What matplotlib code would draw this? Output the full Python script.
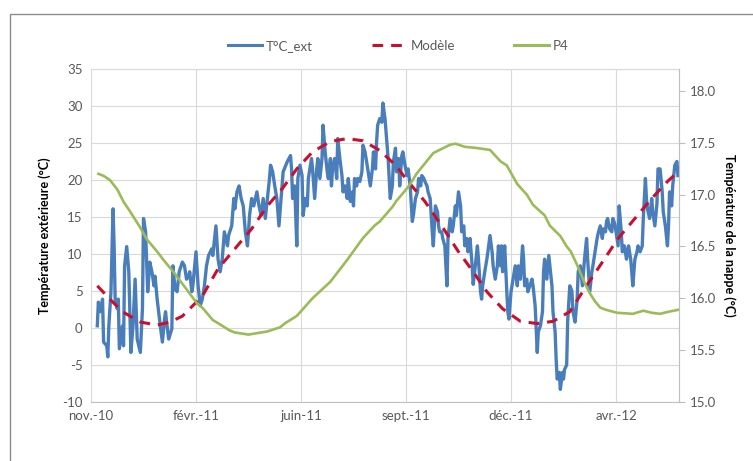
import numpy as np
import pandas as pd
import matplotlib
matplotlib.use("Agg")
import matplotlib.pyplot as plt
from matplotlib.lines import Line2D
from matplotlib.patches import Rectangle

plt.rcParams['font.family'] = ['Lato', 'DejaVu Sans']
plt.rcParams['axes.unicode_minus'] = False

# données (jours depuis le 18/11/2010)
start = pd.Timestamp('2010-11-18')
tick_labels = ['nov.-10', 'févr.-11', 'juin-11', 'sept.-11', 'déc.-11', 'avr.-12']
tick_days = [0, 100, 200, 300, 400, 500]

# T°C_ext
ext_days = [6, 7, 9, 11, 12, 15, 16, 17, 19, 21, 22, 23, 25, 26, 27, 30, 31, 32, 34, 36,
            38, 40, 42, 44, 47, 49, 50, 52, 54, 56, 58, 60, 61, 63, 66, 68, 70, 71, 72, 74,
            77, 78, 80, 82, 84, 87, 89, 91, 93, 94, 96, 97, 100, 102, 104, 106, 108, 110, 112, 115,
            116, 119, 121, 123, 125, 127, 130, 131, 134, 136, 137, 139, 141, 143, 145, 147, 149, 150, 151, 153,
            155, 158, 160, 162, 164, 166, 168, 170, 171, 173, 175, 177, 179, 181, 183, 187, 190, 191, 192, 194,
            196, 197, 199, 201, 202, 204, 206, 207, 209, 210, 211, 213, 215, 216, 218, 220, 221, 223, 225, 226,
            228, 229, 230, 232, 234, 235, 237, 239, 240, 242, 244, 245, 247, 249, 250, 251, 253, 254, 256, 258,
            259, 261, 263, 264, 266, 268, 269, 271, 272, 273, 275, 277, 278, 280, 282, 283, 285, 287, 288, 290,
            291, 293, 294, 296, 297, 299, 301, 302, 304, 306, 307, 309, 311, 312, 314, 315, 317, 318, 320, 321,
            323, 325, 326, 328, 330, 331, 332, 334, 335, 337, 339, 340, 342, 344, 345, 347, 348, 350, 352, 353,
            355, 356, 358, 359, 361, 363, 364, 366, 368, 369, 371, 372, 373, 375, 377, 378, 380, 382, 383, 385,
            387, 388, 390, 391, 392, 394, 396, 397, 398, 400, 402, 404, 406, 407, 409, 411, 412, 413, 415, 416,
            418, 420, 421, 423, 425, 426, 428, 430, 431, 432, 433, 434, 436, 437, 439, 440, 442, 443, 444, 446,
            447, 449, 450, 451, 453, 454, 456, 458, 459, 461, 463, 464, 466, 468, 469, 470, 472, 473, 475, 477,
            478, 480, 482, 483, 485, 487, 488, 490, 491, 492, 494, 496, 497, 499, 501, 502, 503, 505, 506, 508,
            510, 511, 512, 514, 515, 516, 518, 520, 521, 523, 525, 526, 528, 529, 530, 532, 534, 535, 537, 539,
            540, 542, 544, 545, 547, 549, 550, 551, 553, 554, 556, 558, 559]
ext_vals = [0.3, 3.5, 2.2, 3.9, -1.9, -2.4, -3.9, 0.3, 4.9, 16.1, 11.1, 3.9, 2.6, 3.9, -2.8, 0.3, -2.4, 8.4, 11.0, 7.6,
            -3.3, 0.3, 6.6, -1.5, -3.3, 2.6, 14.8, 13.0, 4.9, 8.9, 7.6, 5.7, 7.0, 3.9, 0.3, -1.9, 1.2, 2.2, 0.8, -1.5,
            -0.1, 8.4, 5.3, 4.9, 7.6, 8.9, 8.4, 6.6, 7.0, 7.6, 4.9, 5.7, 10.3, 5.7, 3.0, 3.9, 5.7, 8.4, 9.8, 10.7,
            9.8, 13.8, 9.3, 7.6, 9.3, 13.0, 11.1, 12.5, 13.8, 17.5, 16.1, 18.4, 19.2, 17.5, 16.5, 13.0, 11.1, 13.0, 15.2, 17.5,
            16.5, 18.4, 16.5, 15.2, 17.5, 14.8, 17.5, 20.2, 22.0, 21.1, 19.2, 17.5, 13.8, 17.5, 21.1, 22.5, 23.3, 21.5, 17.5, 19.2,
            11.1, 20.2, 22.0, 20.6, 15.2, 17.5, 16.5, 20.2, 22.0, 22.9, 21.5, 17.5, 21.5, 22.9, 20.2, 22.9, 27.4, 23.8, 21.1, 20.2,
            22.9, 19.2, 21.5, 22.9, 20.2, 25.6, 22.9, 20.6, 18.4, 19.2, 17.5, 20.2, 17.1, 18.4, 16.5, 20.2, 19.2, 20.2, 19.8, 21.1,
            24.7, 23.8, 22.0, 21.1, 19.2, 21.5, 23.8, 21.5, 25.2, 27.4, 28.3, 27.8, 30.4, 28.3, 24.7, 22.9, 17.5, 19.2, 22.5, 24.3,
            21.1, 22.9, 19.2, 23.3, 23.8, 22.0, 20.6, 21.5, 19.2, 14.4, 15.2, 17.5, 18.4, 20.2, 19.2, 20.6, 20.2, 19.8, 19.2, 18.4,
            17.5, 13.0, 11.1, 16.5, 15.7, 13.8, 13.0, 13.0, 12.1, 11.1, 5.7, 12.1, 14.8, 13.0, 13.8, 16.5, 15.2, 18.4, 16.5, 13.0,
            13.8, 11.1, 12.1, 10.3, 12.1, 8.4, 5.9, 8.4, 11.1, 9.3, 4.9, 3.9, 5.7, 7.6, 9.3, 10.3, 12.5, 10.3, 8.4, 6.6,
            8.4, 11.1, 8.4, 11.1, 7.6, 11.1, 4.9, 2.2, 1.2, 4.9, 6.6, 8.4, 5.7, 8.4, 6.6, 11.1, 9.3, 5.7, 6.6, 4.9,
            5.7, 6.6, 5.7, 3.0, -3.3, -0.5, 0.3, 2.2, 7.6, 9.3, 7.6, 6.6, 9.8, 8.4, 5.7, 2.2, -0.5, -4.2, -6.9, -6.0,
            -8.3, -6.0, -6.9, -5.6, -5.0, 1.0, 5.7, 5.0, 2.2, 0.8, 3.9, 7.6, 8.4, 5.7, 7.6, 9.3, 12.1, 9.3, 4.9, 7.6,
            8.4, 10.3, 12.1, 12.8, 13.8, 12.1, 13.4, 13.0, 14.4, 14.8, 13.4, 13.0, 14.8, 14.0, 12.1, 11.1, 16.5, 13.0, 10.3, 11.1,
            9.3, 10.3, 11.1, 9.3, 7.6, 5.7, 9.3, 10.3, 11.1, 10.3, 11.1, 14.8, 20.2, 17.5, 16.1, 14.8, 17.5, 15.7, 13.8, 16.8,
            21.5, 21.5, 18.4, 15.7, 13.8, 11.1, 13.8, 18.4, 16.5, 19.2, 22.0, 22.5, 20.6]

# Modèle
mod_days = [6, 18, 30, 47, 63, 75, 87, 106, 121, 137, 153, 168, 182, 196, 211, 228, 244, 259, 275,
            290, 302, 318, 334, 350, 364, 377, 392, 409, 425, 440, 456, 470, 487, 502, 518, 534, 549, 559]
mod_vals = [5.7, 3.9, 2.2, 0.8, 0.4, 0.8, 1.6, 4.3, 8.0, 10.7, 13.4, 16.5, 18.8, 21.5, 23.8, 25.2, 25.6, 25.3, 24.0,
            22.0, 19.8, 17.1, 13.8, 10.3, 7.6, 4.9, 2.6, 0.9, 0.6, 0.9, 2.2, 5.3, 8.9, 12.1, 14.8, 17.5, 19.8, 21.1]

# P4 (nappe)
p4_days = [7, 12, 18, 25, 31, 37, 47, 53, 63, 69, 78, 90, 101, 106, 116, 121, 132, 137, 150, 168,
           180, 185, 196, 211, 228, 244, 259, 270, 275, 287, 291, 301, 304, 310, 318, 326, 334, 342, 347, 356,
           366, 380, 390, 396, 406, 415, 421, 432, 437, 447, 453, 457, 463, 470, 475, 480, 485, 490, 501, 516,
           526, 534, 542, 550, 560]
p4_vals = [17.20, 17.18, 17.14, 17.05, 16.93, 16.84, 16.68, 16.57, 16.45, 16.37, 16.26, 16.10, 15.95, 15.91, 15.79, 15.76,
           15.69, 15.67, 15.65, 15.68, 15.72, 15.76, 15.83, 16.00, 16.16, 16.37, 16.58, 16.70, 16.74, 16.88, 16.94, 17.06,
           17.10, 17.20, 17.30, 17.40, 17.44, 17.48, 17.49, 17.46, 17.45, 17.43, 17.32, 17.28, 17.10, 17.00, 16.90, 16.80,
           16.70, 16.60, 16.50, 16.45, 16.32, 16.15, 16.05, 15.97, 15.91, 15.89, 15.86, 15.85, 15.88, 15.86, 15.85, 15.87,
           15.89]

ext_dates = start + pd.to_timedelta(ext_days, unit='D')
mod_dates = start + pd.to_timedelta(mod_days, unit='D')
p4_dates = start + pd.to_timedelta(p4_days, unit='D')
tick_dates = start + pd.to_timedelta(tick_days, unit='D')

c_blue = '#4a7ebb'
c_red = '#c8102e'
c_green = '#9bbb59'
c_grid = '#d9d9d9'
c_text = '#595959'

fig = plt.figure(figsize=(7.53, 4.61), dpi=100)
fig.patches.append(Rectangle((10 / 753, -0.1), 1.2, 1.1 - 14 / 461, transform=fig.transFigure,
                             fill=False, edgecolor='#8c8c8c', linewidth=1.0))

ax = fig.add_axes([91 / 753, 59 / 461, 588 / 753, 333 / 461])
ax.plot(ext_dates, ext_vals, color=c_blue, linewidth=2.4, zorder=3)
ax.plot(mod_dates, mod_vals, color=c_red, linewidth=2.2, dashes=(3.5, 2.6), zorder=4)

ax.set_xlim(start, start + pd.Timedelta(days=560))
ax.set_ylim(-10, 35)
ax.set_yticks(np.arange(-10, 36, 5))
ax.set_xticks(tick_dates)
ax.set_xticklabels(tick_labels)
ax.grid(True, color=c_grid, linewidth=0.8)
ax.set_axisbelow(True)
ax.tick_params(axis='both', length=0, labelsize=9.5, colors=c_text, pad=6)
for s in ax.spines.values():
    s.set_color(c_grid)
ax.spines['bottom'].set_color('#bfbfbf')
ax.set_ylabel('Température extérieure (°C)', fontsize=9, fontweight='bold', labelpad=8)

ax2 = ax.twinx()
ax2.plot(p4_dates, p4_vals, color=c_green, linewidth=1.9, zorder=5)
ax2.set_ylim(15.0, 18.21)
ax2.set_yticks(np.arange(15.0, 18.01, 0.5))
ax2.set_yticklabels([f'{v:.1f}' for v in np.arange(15.0, 18.01, 0.5)])
ax2.tick_params(axis='y', length=4, labelsize=9.5, colors=c_text, pad=4)
ax2.tick_params(axis='y', color='#bfbfbf')
for s in ax2.spines.values():
    s.set_visible(False)
ax2.spines['right'].set_visible(True)
ax2.spines['right'].set_color('#bfbfbf')
ax2.set_ylabel('Température de la nappe (°C)', fontsize=9, fontweight='bold', rotation=270, labelpad=14)

handles = [Line2D([], [], color=c_blue, linewidth=2.2),
           Line2D([], [], color=c_red, linewidth=2.2, dashes=(3.5, 2.6)),
           Line2D([], [], color=c_green, linewidth=2.2)]
fig.legend(handles, ['T°C_ext', 'Modèle', 'P4'], loc='center', bbox_to_anchor=(398 / 753, 1 - 46 / 461),
           ncol=3, frameon=False, fontsize=9.5, handlelength=2.6, columnspacing=4.5, handletextpad=0.3,
           labelcolor=c_text)

fig.savefig('out.png', dpi=100)
